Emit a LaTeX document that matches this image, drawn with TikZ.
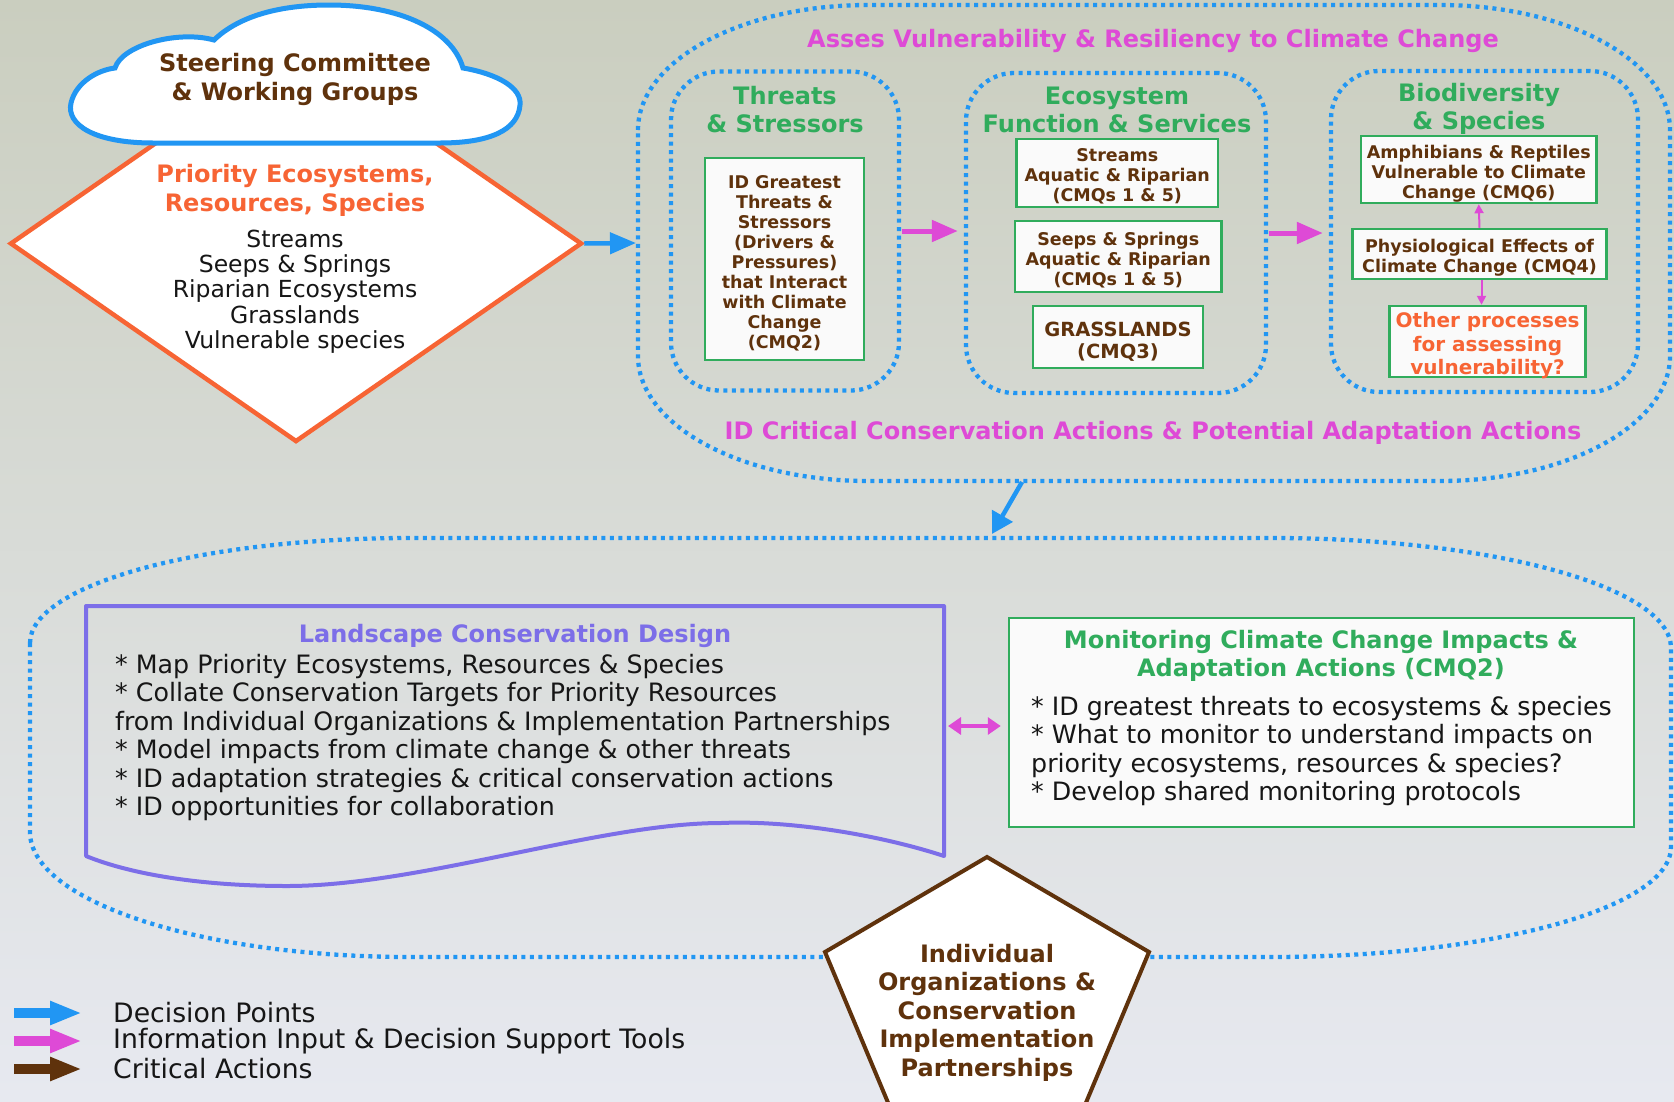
\documentclass[tikz,border=0pt]{standalone}
\usepackage{fontspec}
\setmainfont{DejaVu Sans}
\usetikzlibrary{arrows.meta,shapes.geometric}
\definecolor{cblue}{RGB}{33,150,243}
\definecolor{corange}{RGB}{247,100,52}
\definecolor{cbrown}{RGB}{95,50,12}
\definecolor{cgreen}{RGB}{48,172,92}
\definecolor{cmag}{RGB}{222,74,214}
\definecolor{cpurple}{RGB}{124,110,232}
\definecolor{ctext}{RGB}{22,22,22}
\definecolor{bgtop}{RGB}{202,206,191}
\definecolor{bgbot}{RGB}{231,233,240}
\definecolor{boxfill}{RGB}{250,250,250}
\newcommand\myfs[2]{\fontsize{#1}{#2}\selectfont}
\tikzset{
  tdown/.style={yshift=-2.5pt},
  dotline/.style={draw=cblue, line width=4.3pt, dash pattern=on 4pt off 4.5pt},
  grp/.style={dotline, rounded corners=48pt, inner sep=0pt},
  gbox/.style={draw=cgreen, line width=2.5pt, fill=boxfill, inner sep=0pt},
  btxt/.style={align=center, text=cbrown, font=\bfseries\myfs{17.5}{20}, inner sep=0pt, tdown},
  head/.style={text=cgreen, font=\bfseries\myfs{24}{28}, align=center, inner sep=0pt},
  magtitle/.style={text=cmag, font=\bfseries\myfs{24}{28}, inner sep=0pt, tdown},
  bluearr/.style={draw=cblue, line width=4.5pt, -{Triangle[length=26pt,width=21pt]}},
  magarr/.style={draw=cmag, line width=5pt, -{Triangle[length=26pt,width=21pt]}},
  smallarr/.style={draw=cmag, line width=2pt, -{Triangle[length=9pt,width=9pt]}},
  dblarr/.style={draw=cmag, line width=4pt, {Triangle[length=13pt,width=17pt]}-{Triangle[length=13pt,width=17pt]}},
  bodytxt/.style={text=ctext, font=\myfs{25.3}{28.5}, align=left, inner sep=0pt, anchor=west, tdown},
  legarr/.style={line width=10pt, -{Triangle[length=32pt,width=22pt]}},
  legtxt/.style={text=ctext, font=\myfs{26.7}{28}, inner sep=0pt, anchor=west},
}
\begin{document}
\begin{tikzpicture}[x=1pt,y=-1pt]
\useasboundingbox (0,0) rectangle (1674,1101);
\fill[top color=bgtop, bottom color=bgbot] (0,0) rectangle (1674,1101);
\clip (0,0) rectangle (1674,1101);

% ---------- upper assessment region ----------
\draw[dotline] (638,130) .. controls (638,61) and (741,5) .. (868,5) -- (1440,5)
  .. controls (1567,5) and (1670,61) .. (1670,130) -- (1670,356)
  .. controls (1670,425) and (1567,481) .. (1440,481) -- (868,481)
  .. controls (741,481) and (638,425) .. (638,356) -- cycle;
\coordinate (topL) at (636,243);
\coordinate (topB) at (1022,482);

\node[magtitle] (assess) at (1153,38) {Asses Vulnerability \& Resiliency to Climate Change};
\node[magtitle] (critical) at (1153,430) {ID Critical Conservation Actions \& Potential Adaptation Actions};

\node[grp, minimum width=228pt, minimum height=319pt] (gthreat) at (785,231) {};
\node[grp, minimum width=300pt, minimum height=320pt] (geco) at (1116,233) {};
\node[grp, minimum width=307pt, minimum height=321pt] (gbio) at (1484.5,231.5) {};

\node[head] (hthreat) at (785,110) {Threats\\\& Stressors};
\node[head] (heco) at (1117,110) {Ecosystem\\Function \& Services};
\node[head] (hbio) at (1479,109) {Biodiversity\\\& Species};

\node[gbox, minimum width=159pt, minimum height=202pt] (idg) at (784.5,259) {};
\node[gbox, minimum width=201.5pt, minimum height=68pt] (streams) at (1117.25,173) {};
\node[gbox, minimum width=206.5pt, minimum height=71pt] (seeps) at (1118.25,256.5) {};
\node[gbox, minimum width=170pt, minimum height=62pt] (grass) at (1118,337) {};
\node[gbox, minimum width=235.5pt, minimum height=67pt] (amph) at (1478.75,169.5) {};
\node[gbox, minimum width=254pt, minimum height=50pt] (phys) at (1479.5,254) {};
\node[gbox, minimum width=196pt, minimum height=71pt] (other) at (1487.6,341.5) {};

\node[btxt] (idgT) at (784.5,261) {ID Greatest\\Threats \&\\Stressors\\(Drivers \&\\Pressures)\\that Interact\\with Climate\\Change\\(CMQ2)};
\node[btxt] (streamsT) at (1117.25,174) {Streams\\Aquatic \& Riparian\\(CMQs 1 \& 5)};
\node[btxt] (seepsT) at (1118.25,258) {Seeps \& Springs\\Aquatic \& Riparian\\(CMQs 1 \& 5)};
\node[btxt, font=\bfseries\myfs{19.5}{22}] (grassT) at (1118,339) {GRASSLANDS\\(CMQ3)};
\node[btxt] (amphT) at (1478.75,171) {Amphibians \& Reptiles\\Vulnerable to Climate\\Change (CMQ6)};
\node[btxt] (physT) at (1479.5,255.5) {Physiological Effects of\\Climate Change (CMQ4)};
\node[btxt, text=corange, font=\bfseries\myfs{20}{23.5}] (otherT) at (1487.6,343.5) {Other processes\\for assessing\\vulnerability?};

\draw[smallarr] (phys.north) -- (amph.south);
\draw[smallarr] ([xshift=2pt]phys.south) -- ([xshift=2pt]phys.south |- other.north);
\draw[magarr, shorten >=6pt, shorten <=1pt] (gthreat.east) -- (gthreat.east -| geco.west);
\draw[magarr, shorten >=6pt, shorten <=1pt] (geco.east) -- (geco.east -| gbio.west);

% ---------- priority diamond and cloud ----------
\node[diamond, draw=corange, line width=4.5pt, fill=white, inner sep=0pt,
      minimum width=572pt, minimum height=397pt] (prio) at (296,243.5) {};
\node[text=corange, font=\bfseries\myfs{24}{29}, align=center, inner sep=0pt, tdown] (priot) at (295,187.5)
  {Priority Ecosystems,\\Resources, Species};
\node[text=ctext, font=\myfs{23.5}{25.3}, align=center, inner sep=0pt, tdown] (priol) at (295,289)
  {Streams\\Seeps \& Springs\\Riparian Ecosystems\\Grasslands\\Vulnerable species};

\draw[draw=cblue, line width=5pt, fill=white]
  (153,143) .. controls (95,143) and (66,125) .. (71,103)
  .. controls (76,82) and (98,70) .. (115,68)
  .. controls (122,45) and (178,30) .. (214,40)
  .. controls (240,15) and (282,5) .. (329,5)
  .. controls (400,5) and (452,30) .. (463,68)
  .. controls (498,74) and (522,88) .. (520,105)
  .. controls (518,130) and (490,143) .. (440,143) -- cycle;
\node[text=cbrown, font=\bfseries\myfs{24}{29}, align=center, inner sep=0pt, tdown] (steer) at (295,76.5)
  {Steering Committee\\\& Working Groups};

\draw[bluearr] (prio.east) -- (topL);

% ---------- lower region ----------
\draw[dotline] (30,643) .. controls (30,585) and (200,538) .. (410,538) -- (1271,538)
  .. controls (1492,538) and (1671,587) .. (1671,648) -- (1671,847)
  .. controls (1671,908) and (1492,957) .. (1271,957) -- (410,957)
  .. controls (200,957) and (30,901) .. (30,832) -- cycle;
\coordinate (lowT) at (992,534);
\draw[draw=cblue, line width=4.5pt, -{Triangle[length=21pt,width=23pt]}] (topB) -- (lowT);

\draw[draw=cpurple, line width=4pt, line join=round]
  (86,606) -- (944,606) -- (944,856)
  .. controls (880,835) and (790,820) .. (721,823)
  .. controls (600,823) and (420,886) .. (287,886)
  .. controls (200,886) and (130,874) .. (86,856) -- cycle;
\coordinate (lcdR) at (948,726);
\node[text=cpurple, font=\bfseries\myfs{24}{28}, inner sep=0pt, tdown] (lcdt) at (515,633) {Landscape Conservation Design};
\node[bodytxt] (lcdb) at (115,735)
  {* Map Priority Ecosystems, Resources \& Species\\
   * Collate Conservation Targets for Priority Resources\\
   from Individual Organizations \& Implementation Partnerships\\
   * Model impacts from climate change \& other threats\\
   * ID adaptation strategies \& critical conservation actions\\
   * ID opportunities for collaboration};

\node[draw=cgreen, line width=2.5pt, fill=boxfill, inner sep=0pt, minimum width=625pt, minimum height=209pt] (mon) at (1321.5,722.5) {};
\node[head, tdown] (mont) at (1321,653) {Monitoring Climate Change Impacts \&\\Adaptation Actions (CMQ2)};
\node[bodytxt] (monb) at (1031,748.5)
  {* ID greatest threats to ecosystems \& species\\
   * What to monitor to understand impacts on\\
   priority ecosystems, resources \& species?\\
   * Develop shared monitoring protocols};

\draw[dblarr, shorten >=7pt] (lcdR) -- (lcdR -| mon.west);

% ---------- pentagon ----------
\draw[draw=cbrown, line width=4pt, fill=white, line join=miter]
  (987,857) -- (1149,952) -- (1062,1160) -- (912,1160) -- (825,952) -- cycle;
\node[text=cbrown, font=\bfseries\myfs{24}{28.5}, align=center, inner sep=0pt, tdown] (partner) at (987,1010)
  {Individual\\Organizations \&\\Conservation\\Implementation\\Partnerships};

% ---------- legend ----------
\coordinate (l1a) at (14,1013); \coordinate (l1b) at (82,1013);
\coordinate (l2a) at (14,1041); \coordinate (l2b) at (82,1041);
\coordinate (l3a) at (14,1069); \coordinate (l3b) at (82,1069);
\draw[legarr, draw=cblue, fill=cblue] (l1a) -- (l1b);
\draw[legarr, draw=cmag, fill=cmag] (l2a) -- (l2b);
\draw[legarr, draw=cbrown, fill=cbrown] (l3a) -- (l3b);
\node[legtxt] (lg1) at (113,1013) {Decision Points};
\node[legtxt] (lg2) at (113,1041) {Information Input \& Decision Support Tools};
\node[legtxt] (lg3) at (113,1069) {Critical Actions};
\end{tikzpicture}
\end{document}
